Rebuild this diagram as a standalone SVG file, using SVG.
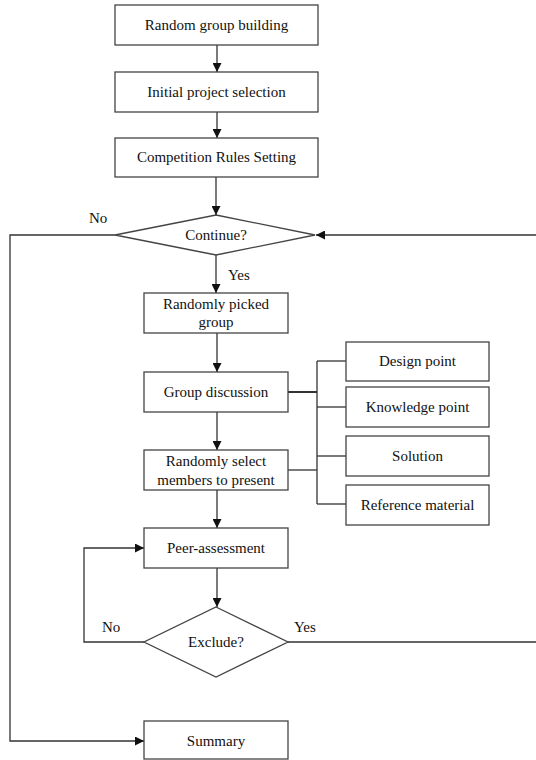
<svg xmlns="http://www.w3.org/2000/svg" width="536" height="760" viewBox="0 0 536 760" font-family="'Liberation Serif', 'Times New Roman', serif">
<style>
.box{fill:#fff;stroke:#444;stroke-width:1.3}
.ln{fill:none;stroke:#333;stroke-width:1.3}
text{font-family:'Liberation Serif','Times New Roman',serif;font-size:15px;fill:#111;text-anchor:middle}
.lbl{text-anchor:start}
</style>
<defs>
<marker id="ah" viewBox="0 0 10 10" refX="10" refY="5" markerWidth="9" markerHeight="9" markerUnits="userSpaceOnUse" orient="auto">
<path d="M0,0 L10,5 L0,10 Z" fill="#111"/>
</marker>
</defs>
<rect width="536" height="760" fill="#fff"/>
<g id="connectors">
<line class="ln" x1="217" y1="45" x2="217" y2="72" marker-end="url(#ah)"/>
<line class="ln" x1="217" y1="112" x2="217" y2="138" marker-end="url(#ah)"/>
<line class="ln" x1="216" y1="177" x2="216" y2="215" marker-end="url(#ah)"/>
<line class="ln" x1="216" y1="255" x2="216" y2="293" marker-end="url(#ah)"/>
<line class="ln" x1="217" y1="333" x2="217" y2="372" marker-end="url(#ah)"/>
<line class="ln" x1="217" y1="412" x2="217" y2="450" marker-end="url(#ah)"/>
<line class="ln" x1="217" y1="490" x2="217" y2="528" marker-end="url(#ah)"/>
<line class="ln" x1="217" y1="568" x2="217" y2="607" marker-end="url(#ah)"/>
<polyline class="ln" points="115,235 10,235 10,741 144,741" marker-end="url(#ah)"/>
<polyline class="ln" points="288,642 538,642 538,235 316,235" marker-end="url(#ah)"/>
<polyline class="ln" points="144,642 84,642 84,548 144,548" marker-end="url(#ah)"/>
<line class="ln" x1="288" y1="392" x2="317" y2="392" style="stroke-width:2"/>
<line class="ln" x1="288" y1="470" x2="317" y2="470"/>
<line class="ln" x1="317" y1="361" x2="317" y2="504"/>
<line class="ln" x1="317" y1="361" x2="346" y2="361"/>
<line class="ln" x1="317" y1="407" x2="346" y2="407"/>
<line class="ln" x1="317" y1="456" x2="346" y2="456"/>
<line class="ln" x1="317" y1="504" x2="346" y2="504"/>
<text class="lbl" x="89" y="223">No</text>
<text class="lbl" x="228" y="280">Yes</text>
<text class="lbl" x="102" y="632">No</text>
<text class="lbl" x="294" y="632">Yes</text>
</g>
<g id="n1"><rect class="box" x="115" y="5" width="203" height="40"/><text x="216.5" y="30">Random group building</text></g>
<g id="n2"><rect class="box" x="115" y="72" width="203" height="40"/><text x="216.5" y="97">Initial project selection</text></g>
<g id="n3"><rect class="box" x="115" y="138" width="203" height="39"/><text x="216.5" y="162">Competition Rules Setting</text></g>
<g id="n4"><polygon class="box" points="216,215 315,235 216,255 115,235"/><text x="216" y="240">Continue?</text></g>
<g id="n5"><rect class="box" x="144" y="293" width="144" height="40"/><text x="216" y="309">Randomly picked</text><text x="216" y="327">group</text></g>
<g id="n6"><rect class="box" x="144" y="372" width="144" height="40"/><text x="216" y="397">Group discussion</text></g>
<g id="n7"><rect class="box" x="144" y="450" width="144" height="40"/><text x="216" y="466">Randomly select</text><text x="216" y="485">members to present</text></g>
<g id="n8"><rect class="box" x="144" y="528" width="144" height="40"/><text x="216" y="553">Peer-assessment</text></g>
<g id="n9"><polygon class="box" points="216,607 288,642 216,677 144,642"/><text x="216" y="647">Exclude?</text></g>
<g id="n10"><rect class="box" x="144" y="721" width="144" height="38"/><text x="216" y="746">Summary</text></g>
<g id="d1"><rect class="box" x="346" y="342" width="143" height="39"/><text x="417.5" y="366">Design point</text></g>
<g id="d2"><rect class="box" x="346" y="387" width="143" height="40"/><text x="417.5" y="412">Knowledge point</text></g>
<g id="d3"><rect class="box" x="346" y="436" width="143" height="40"/><text x="417.5" y="461">Solution</text></g>
<g id="d4"><rect class="box" x="346" y="485" width="143" height="40"/><text x="417.5" y="510">Reference material</text></g>
</svg>
